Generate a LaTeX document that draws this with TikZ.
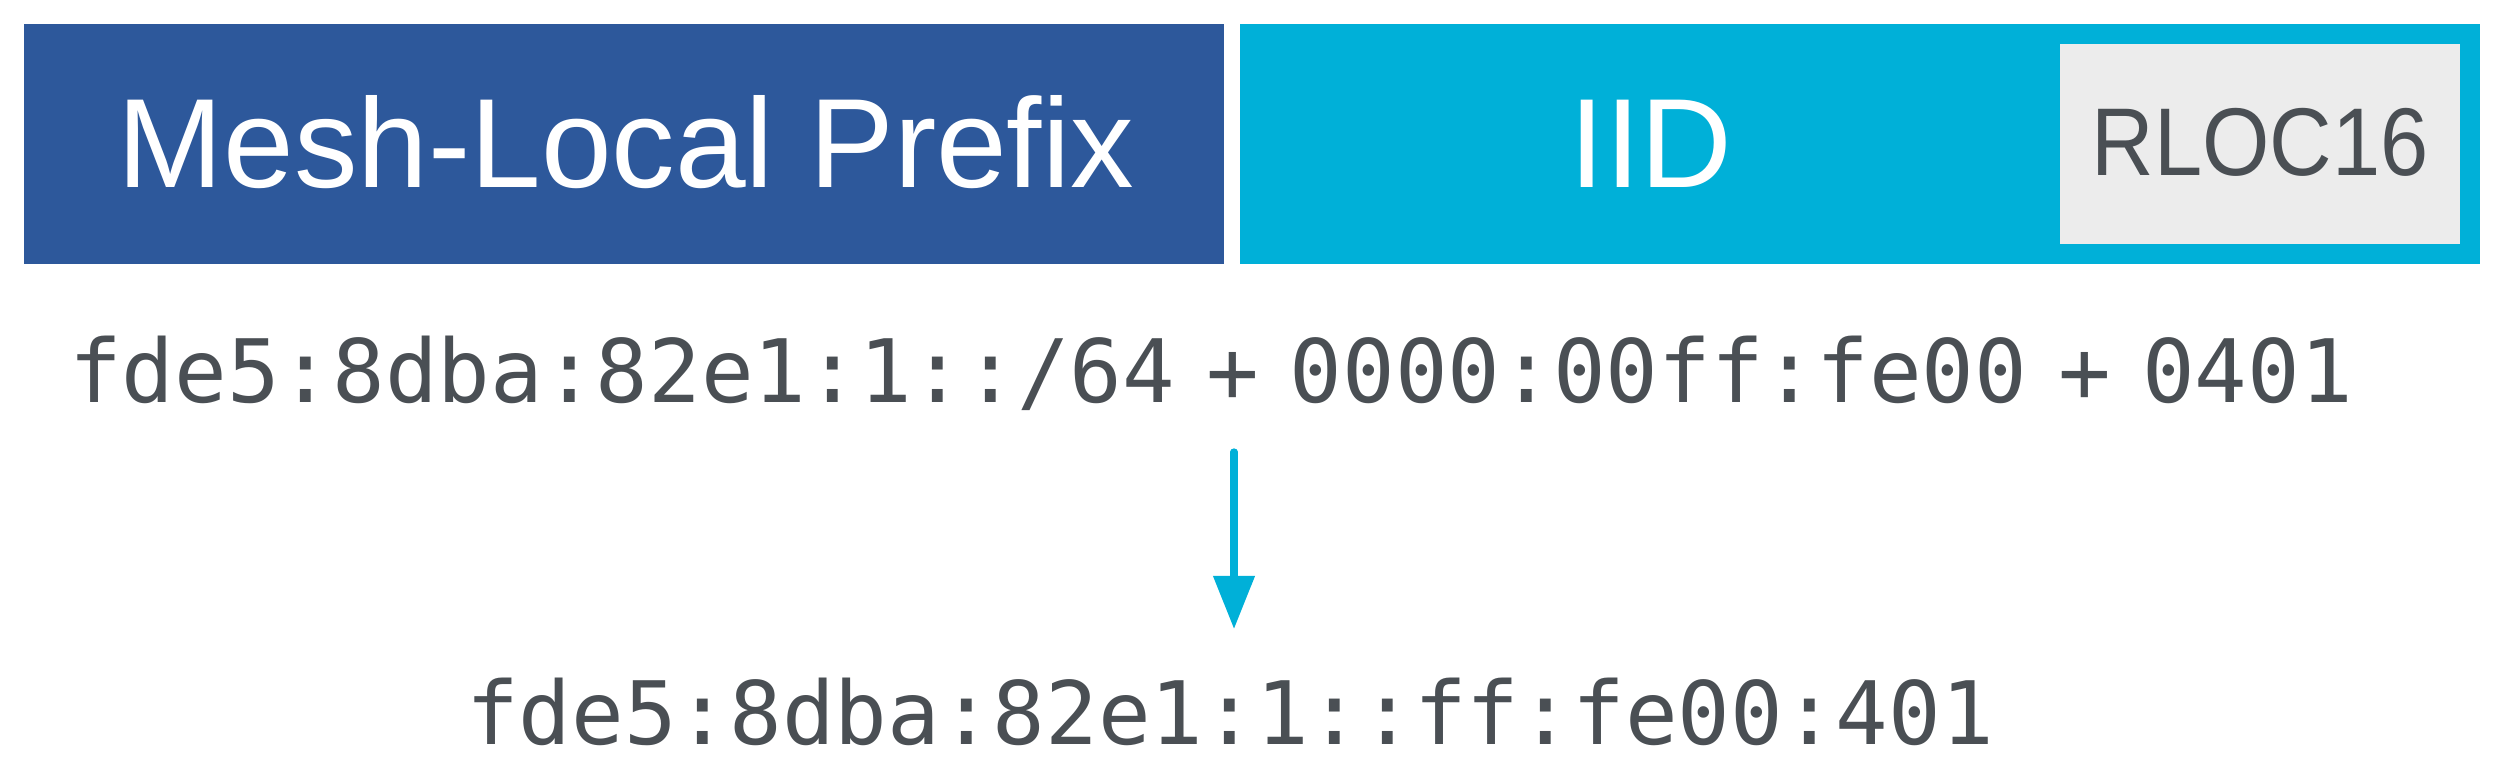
\documentclass[tikz,border=0pt]{standalone}
\usepackage{fontspec}
\setmainfont{Liberation Sans}
\newfontfamily\codefont{DejaVu Sans Mono}
\newfontfamily\rlocfont[FakeStretch=0.9]{Liberation Sans}
\usetikzlibrary{arrows.meta}
\definecolor{meshblue}{HTML}{2D589B}
\definecolor{iidcyan}{HTML}{00B0D8}
\definecolor{rlocgrey}{HTML}{ECECEC}
\definecolor{txtgrey}{HTML}{4A4F54}
\newcommand{\gap}{\hspace{12.4pt}}
\begin{document}
\begin{tikzpicture}[x=0.4pt,y=-0.4pt,
  field/.style={draw=none, inner sep=0pt, outer sep=0pt, anchor=north west},
  bigtext/.style={font=\fontsize{50.8pt}{60pt}\selectfont, text=white, inner sep=0pt, anchor=base},
  code/.style={font=\codefont\fontsize{35pt}{42pt}\selectfont, text=txtgrey, inner sep=0pt, anchor=base},
  conv/.style={draw=iidcyan, line width=2.9pt, line cap=round, -{Triangle[length=21.2pt,width=16pt]}}]
\useasboundingbox (0,0) rectangle (2500,784);
\fill[white] (0,0) rectangle (2500,784);
\node[field, fill=meshblue, minimum width=480pt, minimum height=96pt] (mlp) at (24,24) {};
\node[field, fill=iidcyan, minimum width=496pt, minimum height=96pt] (iid) at (1240,24) {};
\node[field, fill=rlocgrey, minimum width=160pt, minimum height=80pt] (rloc) at (2060,44) {};
\node[bigtext] (mlpt) at (626,188) {Mesh-Local Prefix};
\node[bigtext] (iidt) at (1651,188) {IID};
\node[bigtext, font=\rlocfont\fontsize{38.5pt}{46pt}\selectfont, text=txtgrey] (rloct) at (2260,176) {RLOC16};
\node[code] (src) at (1211,403) {fde5:8dba:82e1:1::/64\gap+\gap 0000:00ff:fe00\gap+\gap 0401};
\node[code] (dst) at (1230,745) {fde5:8dba:82e1:1::ff:fe00:401};
\coordinate (from) at (1234,452);
\coordinate (to) at (1234,629);
\draw[conv] (from) -- (to);
\end{tikzpicture}
\end{document}
